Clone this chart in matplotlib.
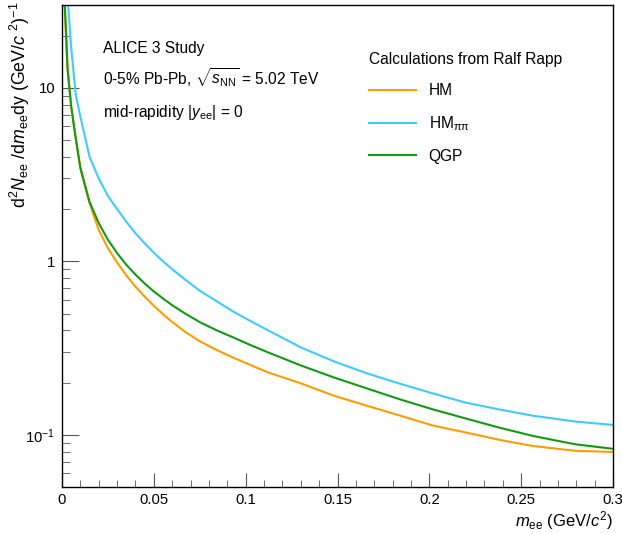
import matplotlib
matplotlib.use('Agg')
import matplotlib.pyplot as plt
from matplotlib.ticker import LogLocator, MultipleLocator, NullFormatter, FuncFormatter

plt.rcParams['font.family'] = ['Liberation Sans', 'DejaVu Sans']
plt.rcParams['mathtext.fontset'] = 'custom'
plt.rcParams['mathtext.rm'] = 'Liberation Sans'
plt.rcParams['mathtext.it'] = 'Liberation Sans:italic'
plt.rcParams['mathtext.bf'] = 'Liberation Sans:bold'

# dielectron mass (GeV/c^2) and yields
mass = [0.001, 0.003, 0.005, 0.0075, 0.01, 0.015, 0.02, 0.025, 0.03, 0.035,
        0.04, 0.045, 0.05, 0.055, 0.06, 0.067, 0.075, 0.084, 0.093, 0.102,
        0.112, 0.13, 0.148, 0.166, 0.184, 0.202, 0.22, 0.238, 0.256, 0.275,
        0.28, 0.3]
hm = [40, 13, 7.8, 5.1, 3.45, 2.16, 1.515, 1.19, 0.985, 0.83,
      0.714, 0.626, 0.554, 0.495, 0.447, 0.392, 0.346, 0.309, 0.279, 0.254,
      0.229, 0.198, 0.168, 0.147, 0.129, 0.113, 0.103, 0.0936, 0.0863, 0.0818,
      0.0808, 0.0796]
hm_pipi = [70, 34, 17, 9.1, 6.8, 4.0, 3.0, 2.38, 2.0, 1.69,
           1.45, 1.27, 1.12, 1.0, 0.9, 0.785, 0.677, 0.59, 0.515, 0.456,
           0.401, 0.319, 0.265, 0.226, 0.197, 0.173, 0.153, 0.140, 0.129, 0.121,
           0.119, 0.114]
qgp = [40, 13, 7.8, 5.1, 3.45, 2.2, 1.66, 1.33, 1.115, 0.955,
       0.838, 0.745, 0.67, 0.61, 0.558, 0.50, 0.446, 0.401, 0.365, 0.331,
       0.299, 0.251, 0.214, 0.185, 0.160, 0.140, 0.124, 0.110, 0.0987, 0.090,
       0.088, 0.083]

series = [hm, hm_pipi, qgp]
labels = ['HM', r'HM$_{\rm ππ}$', 'QGP']
colors = ['#ff9d00', '#3fcbff', '#139913']

W, H = 622, 534
fig = plt.figure(figsize=(W / 100, H / 100), dpi=100)
ax = fig.add_axes([62 / W, 1 - 487 / H, 551 / W, 482 / H])

for vals, lab, col in zip(series, labels, colors):
    ax.plot(mass, vals, color=col, lw=1.5, label=lab)

ax.set_yscale('log')
ax.set_xlim(0, 0.3)
ax.set_ylim(0.05, 30)

ax.xaxis.set_major_locator(MultipleLocator(0.05))
ax.xaxis.set_minor_locator(MultipleLocator(0.01))
ax.xaxis.set_major_formatter(FuncFormatter(lambda v, p: f'{v:g}'))
ax.yaxis.set_major_locator(LogLocator(base=10))
ax.yaxis.set_minor_locator(LogLocator(base=10, subs=range(2, 10)))
ax.yaxis.set_minor_formatter(NullFormatter())

def ylab(v, p):
    if v >= 1:
        return f'{v:g}'
    return r'$10^{-1}$'
ax.yaxis.set_major_formatter(FuncFormatter(ylab))

ax.tick_params(which='both', direction='in', top=False, right=False,
               labelsize=10.7, color='#555555')
ax.tick_params(axis='x', which='major', length=10, pad=4)
ax.tick_params(axis='x', which='minor', length=5)
ax.tick_params(axis='y', which='major', length=12, pad=5)
ax.tick_params(axis='y', which='minor', length=6)
for s in ax.spines.values():
    s.set_linewidth(1.0)

# axis titles, ROOT style (right/top aligned)
fig.text(613 / W, 1 - 526 / H, r'$m_{\rm ee}$ (GeV/$c^{2}$)', ha='right',
         va='baseline', fontsize=12)
fig.text(20 / W, 1 - 1 / H,
         r'd$^{2}$$N_{\rm ee}$ /d$m_{\rm ee}$dy (GeV/$c$ $^{2}$)$^{-1}$',
         rotation=90, ha='center', va='top', fontsize=12.8)

# annotations
fs = 11.2
fig.text(103 / W, 1 - 53 / H, 'ALICE 3 Study', fontsize=fs, va='baseline')
fig.text(103 / W, 1 - 84.5 / H,
         r'0-5% Pb-Pb, $\sqrt{s_{\rm NN}}$ = 5.02 TeV', fontsize=fs, va='baseline')
fig.text(103 / W, 1 - 117 / H, r'mid-rapidity |$y_{\rm ee}$| = 0',
         fontsize=fs, va='baseline')

leg = ax.legend(title='Calculations from Ralf Rapp', loc='upper left',
                bbox_to_anchor=(369 / W, 1 - 52 / H), bbox_transform=fig.transFigure,
                frameon=False, fontsize=fs, title_fontsize=fs, alignment='left',
                handlelength=3.0, handletextpad=0.83, labelspacing=1.03,
                borderpad=0, borderaxespad=0)

fig.savefig('out.png', dpi=100)
